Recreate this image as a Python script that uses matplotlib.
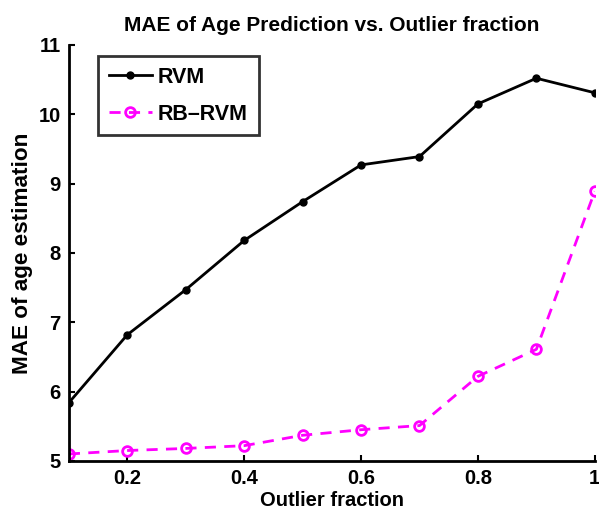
import numpy as np
import matplotlib
matplotlib.use("Agg")
import matplotlib.pyplot as plt

# dados
fracao = [0.1, 0.2, 0.3, 0.4, 0.5, 0.6, 0.7, 0.8, 0.9, 1.0]
mae_rvm = [5.84, 6.82, 7.47, 8.18, 8.74, 9.27, 9.39, 10.15, 10.52, 10.31]
mae_rb_rvm = [5.10, 5.15, 5.18, 5.22, 5.37, 5.45, 5.51, 6.22, 6.61, 8.89]
xticks = [0.2, 0.4, 0.6, 0.8, 1.0]
xtick_labels = ["0.2", "0.4", "0.6", "0.8", "1"]
yticks = [5, 6, 7, 8, 9, 10, 11]

plt.rcParams['font.family'] = ['Liberation Sans', 'DejaVu Sans']
plt.rcParams['font.weight'] = 'bold'

fig = plt.figure(figsize=(5.99, 5.11), dpi=100)
ax = fig.add_axes([0.115, 0.098, 0.878, 0.814])

ax.plot(fracao, mae_rvm, color='black', linewidth=2, marker='o', markersize=5,
        markerfacecolor='black', markeredgecolor='black', label='RVM')
ax.plot(fracao, mae_rb_rvm, color='magenta', linewidth=2, linestyle=(0, (4, 3)), marker='o',
        markersize=7, markerfacecolor='none', markeredgecolor='magenta', markeredgewidth=2,
        label='RB\u2013RVM')

ax.set_xlim(0.1, 1.0)
ax.set_ylim(5, 11)
ax.set_xticks(xticks)
ax.set_xticklabels(xtick_labels)
ax.set_yticks(yticks)
ax.tick_params(direction='in', length=4, width=1.5, labelsize=14.5, pad=6)
for lbl in ax.get_xticklabels() + ax.get_yticklabels():
    lbl.set_fontweight('bold')

for s in ['top', 'right']:
    ax.spines[s].set_visible(False)
for s in ['left', 'bottom']:
    ax.spines[s].set_linewidth(2)

ax.set_title('MAE of Age Prediction vs. Outlier fraction', fontsize=15, fontweight='bold', pad=10)
ax.set_xlabel('Outlier fraction', fontsize=14.5, fontweight='bold', labelpad=2)
ax.set_ylabel('MAE of age estimation', fontsize=16.2, fontweight='bold', labelpad=4)

leg = ax.legend(loc='upper left', bbox_to_anchor=(0.055, 0.974), borderaxespad=0,
                fontsize=15.5, frameon=True, fancybox=False, edgecolor='black',
                handlelength=2.0, borderpad=0.5, labelspacing=0.75, handletextpad=0.3)
leg.get_frame().set_linewidth(2)
for t in leg.get_texts():
    t.set_fontweight('bold')

fig.savefig('out.png', dpi=100)
